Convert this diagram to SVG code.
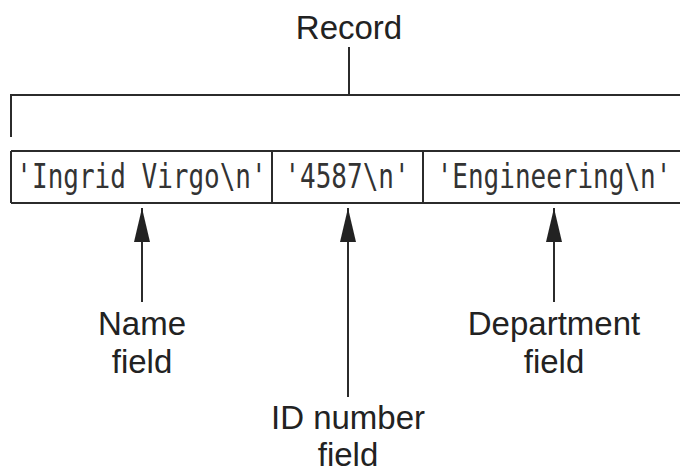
<svg xmlns="http://www.w3.org/2000/svg" width="680" height="473" viewBox="0 0 680 473">
<style>
.ln{stroke:#2b2b2b;stroke-width:2;fill:none}
.lbl{font-family:"Liberation Sans",Arial,sans-serif;font-size:33px;fill:#222;text-anchor:middle}
.mono{font-family:"DejaVu Sans Mono","Liberation Mono",monospace;font-size:26px;fill:#333;text-anchor:middle}
</style>
<defs>
<marker id="ah" markerUnits="userSpaceOnUse" markerWidth="34" markerHeight="18" viewBox="0 0 34 18" refX="34" refY="9" orient="auto">
<path d="M34 9 L0 1 L0 17 Z" fill="#222"/>
</marker>
</defs>
<rect width="680" height="473" fill="#fff"/>
<g id="record-label">
<text class="lbl" x="349" y="39" font-size="32">Record</text>
</g>
<g id="record-box">
<path class="ln" d="M11 151 H690 M11 203 H690 M11 151 V203 M272 151 V203 M423 151 V203"/>
</g>
<g id="name-cell">
<text class="mono" transform="translate(141.5 188) scale(1 1.27)">'Ingrid Virgo\n'</text>
</g>
<g id="id-cell">
<text class="mono" transform="translate(347 188) scale(1 1.27)">'4587\n'</text>
</g>
<g id="dept-cell">
<text class="mono" transform="translate(554 188) scale(1 1.27)">'Engineering\n'</text>
</g>
<g id="name-label">
<text class="lbl" x="142" y="335">Name</text>
<text class="lbl" x="142" y="373">field</text>
</g>
<g id="id-label">
<text class="lbl" x="348" y="429">ID number</text>
<text class="lbl" x="348" y="466">field</text>
</g>
<g id="dept-label">
<text class="lbl" x="554" y="335">Department</text>
<text class="lbl" x="554" y="373">field</text>
</g>
<g id="connectors">
<path class="ln" d="M349 47 V95"/>
<path class="ln" d="M11 137 V95 H690"/>
<path class="ln" d="M142 302 V208" marker-end="url(#ah)"/>
<path class="ln" d="M348 397 V208" marker-end="url(#ah)"/>
<path class="ln" d="M554 302 V208" marker-end="url(#ah)"/>
</g>
</svg>
